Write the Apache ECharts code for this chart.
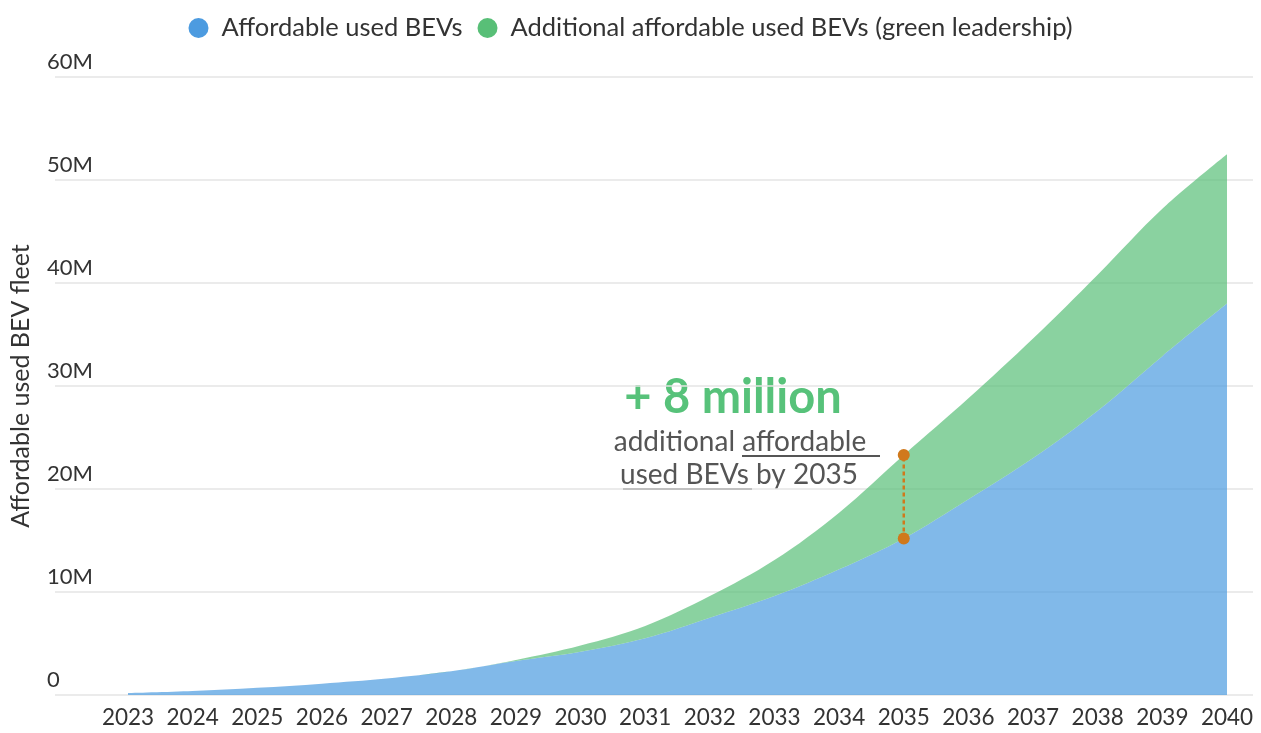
<!DOCTYPE html>
<html>
<head>
<meta charset="utf-8">
<script src="https://cdn.jsdelivr.net/npm/echarts@6/dist/echarts.min.js"></script>
<style>
html,body{margin:0;padding:0;background:#fff;}
#chart{width:1261px;height:733px;}
</style>
</head>
<body>
<div id="chart"></div>
<script>
// Data (millions of vehicles)
const years = ['2023','2024','2025','2026','2027','2028','2029','2030','2031','2032','2033','2034','2035','2036','2037','2038','2039','2040'];
const affordableUsed = [0.2,0.4,0.7,1.1,1.6,2.3,3.3,4.2,5.5,7.5,9.6,12.2,15.2,19.0,23.0,27.6,32.9,38.0];
const additionalGreen = [0,0,0,0,0,0,0.1,0.6,1.2,2.1,3.5,5.5,8.1,9.8,11.6,13.2,14.3,14.5];
const yTicks = [0,10,20,30,40,50,60];
const seriesNames = ['Affordable used BEVs','Additional affordable used BEVs (green leadership)'];
const highlightYear = '2035';

const FONT = 'Lato';
const hi = years.indexOf(highlightYear);
const lowV = affordableUsed[hi];
const highV = +(affordableUsed[hi] + additionalGreen[hi]).toFixed(2);

const chart = echarts.init(document.getElementById('chart'));
chart.setOption({
  animation:false,
  textStyle:{fontFamily:FONT},
  legend:{
    data:seriesNames,
    top:10,left:'center',
    icon:'circle',itemWidth:20,itemHeight:20,itemGap:15,
    textStyle:{fontFamily:FONT,fontSize:25.5,color:'#333',padding:[0,0,0,8]}
  },
  grid:[
    {left:44,right:8,top:77,bottom:38},
    {left:128,right:34,top:77,bottom:38}
  ],
  xAxis:[
    {gridIndex:0,type:'value',show:false,min:0,max:1},
    {gridIndex:1,type:'category',data:years,boundaryGap:false,
     axisLine:{show:false},axisTick:{show:false},
     axisLabel:{interval:0,hideOverlap:false,fontFamily:FONT,fontSize:22.5,color:'#333',margin:11}}
  ],
  yAxis:[
    {gridIndex:0,type:'value',min:yTicks[0],max:yTicks[yTicks.length-1],interval:yTicks[1]-yTicks[0],
     axisLine:{show:false},axisTick:{show:false},
     splitLine:{lineStyle:{color:'#e4e4e4',width:1.5}},
     axisLabel:{inside:true,margin:-8,verticalAlign:'bottom',padding:[0,0,4,0],
       fontFamily:FONT,fontSize:22,color:'#333',
       formatter:v=>v===0?'0':v+'M'},
     name:'Affordable used BEV fleet',nameLocation:'middle',nameGap:22,nameRotate:90,
     nameTextStyle:{fontFamily:FONT,fontSize:25,color:'#333'}},
    {gridIndex:1,type:'value',min:yTicks[0],max:yTicks[yTicks.length-1],show:false,splitLine:{show:false}}
  ],
  series:[
    {name:seriesNames[0],type:'line',xAxisIndex:1,yAxisIndex:1,stack:'fleet',data:affordableUsed,
     smooth:0.35,symbol:'none',lineStyle:{width:0},
     itemStyle:{color:'#4c9be0'},areaStyle:{color:'#4c9be0',opacity:0.7}},
    {name:seriesNames[1],type:'line',xAxisIndex:1,yAxisIndex:1,stack:'fleet',data:additionalGreen,
     smooth:0.35,symbol:'none',lineStyle:{width:0},
     itemStyle:{color:'#58bf77'},areaStyle:{color:'#58bf77',opacity:0.7}},
    {name:'gap',type:'line',xAxisIndex:1,yAxisIndex:1,
     data:[[highlightYear,lowV],[highlightYear,highV]],
     symbol:'circle',symbolSize:12,
     itemStyle:{color:'#d0791c'},
     lineStyle:{color:'#d0791c',width:2.5,type:[4,3]},z:5}
  ],
  graphic:[
    {type:'text',x:733,y:398,style:{text:'+ 8 million',font:'bold 47px '+FONT,fill:'#57c27a',align:'center',verticalAlign:'middle'}},
    {type:'text',x:740,y:442,style:{text:'additional affordable',font:'28px '+FONT,fill:'#555',align:'center',verticalAlign:'middle'}},
    {type:'text',x:739,y:475,style:{text:'used BEVs by 2035',font:'28px '+FONT,fill:'#555',align:'center',verticalAlign:'middle'}},
    {type:'line',shape:{x1:742,y1:456,x2:880,y2:456},style:{stroke:'#555',lineWidth:2}},
    {type:'line',shape:{x1:623,y1:489,x2:752,y2:489},style:{stroke:'#555',lineWidth:2}}
  ]
});
</script>
</body>
</html>
